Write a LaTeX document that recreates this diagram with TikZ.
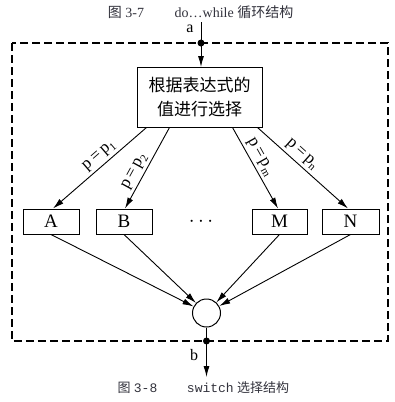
\documentclass[tikz,border=0pt]{standalone}
\usepackage{fontspec}
\setmainfont{Liberation Serif}
\newfontfamily\cjk{Noto Sans CJK SC}
\newfontfamily\monof{Liberation Mono}
\usetikzlibrary{arrows.meta,calc}
\definecolor{capc}{RGB}{50,50,60}
\newcommand\psub[1]{\raisebox{-0.45ex}{\fontsize{11}{11}\selectfont #1}}
\begin{document}
\begin{tikzpicture}[x=1pt,y=-1pt,
  box/.style={draw,line width=1pt,inner sep=0pt},
  smallbox/.style={box,minimum width=56pt,minimum height=25pt,font=\fontsize{19}{19}\selectfont},
  arr/.style={line width=0.9pt,-{Latex[length=11pt,width=6pt]}},
  dotnode/.style={circle,fill,inner sep=0pt,minimum size=7pt},
  lbl/.style={font=\fontsize{17}{17}\selectfont,sloped,above=2pt,inner sep=1pt},
  capt/.style={text=capc,inner sep=0pt}]
\useasboundingbox (0,0) rectangle (395,402);
% dashed frame
\draw[dash pattern=on 8pt off 4pt,line width=1.3pt] (12,43) rectangle (388,341);
% top box
\node[box,minimum width=125pt,minimum height=60pt,align=center,
      font=\cjk\fontsize{17}{24}\selectfont] (top) at (199.5,97) {根据表达式的\\值进行选择};
% case boxes
\node[smallbox] (A) at (51,221.5) {A};
\node[smallbox] (B) at (124,221.5) {B};
\node[smallbox,minimum width=55pt] (M) at (279.5,221.5) {M};
\node[smallbox,minimum width=57pt] (N) at (350.5,221.5) {N};
\node[font=\fontsize{20}{20}\selectfont] (dots) at (201,222) {$\cdots$};
% junction circle
\node[draw,circle,minimum size=28pt,inner sep=0pt,line width=1pt,fill=white] (c) at (206.5,313) {};
% entry
\coordinate (a0) at (201,22);
\coordinate (a1) at (201,67);
\draw[arr] (a0) -- (a1);
\node[dotnode] (da) at (201,43) {};
\node[font=\fontsize{16}{16}\selectfont] (la) at (190,29) {a};
% exit
\coordinate (b1) at (206.5,377);
\draw[arr] (c) -- (b1);
\node[dotnode] (db) at (206.5,341) {};
\node[font=\fontsize{16}{16}\selectfont] (lb) at (194,355) {b};
% branches
\coordinate (s1) at ([xshift=10pt]top.south west);
\coordinate (s2) at ([xshift=33pt]top.south west);
\coordinate (s3) at ([xshift=-30pt]top.south east);
\coordinate (s4) at ([xshift=-5pt]top.south east);
\draw[arr] (s1) -- node[lbl,pos=0.44]{p\,=\,p\psub{1}} ([xshift=2pt]A.north);
\draw[arr] (s2) -- node[lbl,pos=0.6]{p\,=\,p\psub{2}} ([xshift=1pt]B.north);
\draw[arr] (s3) -- node[lbl,pos=0.42]{p\,=\,p\psub{m}} ([xshift=-1.5pt]M.north);
\draw[arr] (s4) -- node[lbl,pos=0.42]{p\,=\,p\psub{n}} ([xshift=-2.5pt]N.north);
% merges
\draw[arr] (A.south) -- (c);
\draw[arr] (B.south) -- (c);
\draw[arr] (M.south) -- (c);
\draw[arr] (N.south) -- (c);
% captions
\node[capt,font=\fontsize{14}{14}\selectfont] (cap1a) at (126,12) {{\cjk 图} 3-7};
\node[capt,font=\fontsize{14}{14}\selectfont] (cap1b) at (234,12) {do…while {\cjk 循环结构}};
\node[capt,font=\fontsize{13}{13}\selectfont] (cap2a) at (137.5,388) {{\cjk 图} {\monof 3-8}};
\node[capt,font=\fontsize{13}{13}\selectfont] (cap2b) at (238,388) {{\monof switch} {\cjk 选择结构}};
\end{tikzpicture}
\end{document}
